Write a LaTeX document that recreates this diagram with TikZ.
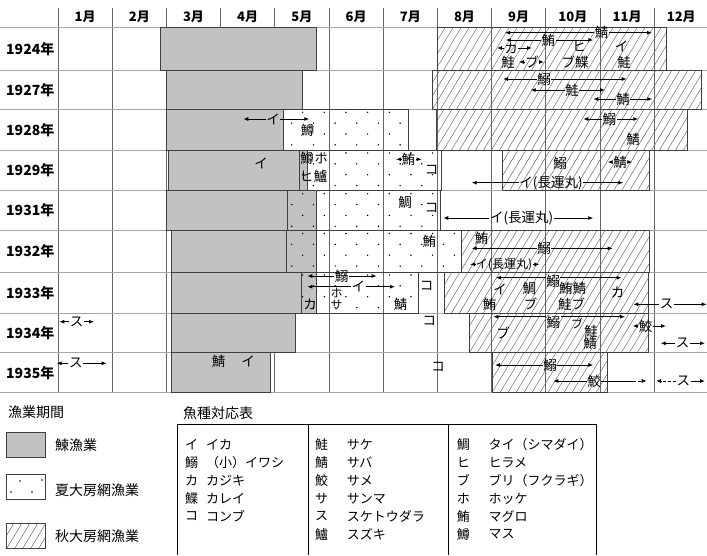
\documentclass[tikz,border=0pt]{standalone}
\usepackage{fontspec}
\setmainfont{Noto Sans CJK JP}
\usetikzlibrary{arrows.meta}
\tikzset{
  vgrid/.style={draw=black!60, line width=0.7pt},
  hgrid/.style={draw=black!35, line width=0.8pt},
  herring/.style={fill=black!24, draw=black!75, line width=0.8pt},
  boxline/.style={draw=black!75, line width=0.8pt},
  hatchline/.style={draw=black!60, line width=0.45pt},
  tabline/.style={draw=black, line width=1pt},
  lab/.style={font=\fontsize{13.5}{13.5}\selectfont, inner sep=0.5pt},
  small/.style={font=\fontsize{12}{12}\selectfont, inner sep=0pt},
  arr/.style={-{Latex[length=5pt,width=4pt]}, line width=0.9pt},
  plain/.style={line width=0.9pt},
  hdr/.style={font=\bfseries\fontsize{14}{14}\selectfont, inner sep=0},
  mhdr/.style={font=\bfseries\fontsize{13}{13}\selectfont, inner sep=0},
  leg/.style={font=\fontsize{14}{14}\selectfont, inner sep=0, anchor=west},
  tab/.style={font=\fontsize{13}{13}\selectfont, inner sep=0, anchor=west},
}
\newcommand\farrow[8][]{% style, name, xl, xr, y, xlab, ylab, text
  \node[lab,#1] (#2) at (#6,#7) {#8};
  \coordinate (#2L) at (#3,#5);
  \coordinate (#2R) at (#4,#5);
  \draw[arr] (#2.west |- #2L) -- (#2L);
  \draw[arr] (#2.east |- #2R) -- (#2R);
}
\newcommand\dotrect[4]{%
  \begin{scope}
    \clip (#1,#2) rectangle (#3,#4);
    \foreach \j in {0,...,3}{
      \foreach \i in {-10,...,10}{
        \fill ({324.3+21.67*\i+10.83*mod(\j,2)},{#2+3+10.85*\j}) circle (0.8pt);
      }
    }
  \end{scope}
  \draw[boxline] (#1,#2) rectangle (#3,#4);
}
\newcommand\hatchrect[4]{%
  \begin{scope}
    \clip (#1,#2) rectangle (#3,#4);
    \pgfmathsetmacro\hH{#4-#2}
    \pgfmathsetmacro\hS{#1-0.6*\hH}
    \pgfmathsetmacro\hN{\hS+8}
    \foreach \c in {\hS,\hN,...,#3}{
      \draw[hatchline] (\c,#4) -- ({\c+0.6*\hH},#2);
    }
  \end{scope}
  \draw[boxline] (#1,#2) rectangle (#3,#4);
}
\begin{document}
\begin{tikzpicture}[x=1pt,y=-1pt]
\useasboundingbox (0,0) rectangle (707,555);
% grid
\foreach \k in {0,...,11} \draw[vgrid] ({58+54.2*\k},8) -- ({58+54.2*\k},392.7);
\foreach \y in {27.7,70,109.3,150,190.7,230.5,272,313.3,352.7,392.7} \draw[hgrid] (0,\y) -- (707,\y);
% headers
\foreach \m [count=\k from 0] in {1,...,12} \node[mhdr] (m\m) at ({85.1+54.2*\k},17) {\m 月};
\foreach \yr/\yc in {1924/48.8,1927/89.7,1928/129.7,1929/170.3,1931/210.6,1932/251.2,1933/292.7,1934/333,1935/372.7}
  \node[hdr,anchor=west] (y\yr) at (6,\yc) {\yr 年};
% herring bars
\foreach \a/\b/\t/\u in {160/316/27.7/70,166/302/70/109.3,166/283/109.3/150,168/307/150/190.7,166/316/190.7/230.5,171/316/230.5/272,171/316/272/313.3,171/295/313.3/352.7,171/270/352.7/392.7}
  \draw[herring] (\a,\t) rectangle (\b,\u);
% summer nets
\dotrect{283}{109.3}{408}{150}
\dotrect{299}{150}{441}{190.7}
\dotrect{287}{190.7}{440}{230.5}
\dotrect{286}{230.5}{461}{272}
\dotrect{301}{272}{418}{313.3}
% autumn nets
\hatchrect{437}{27.7}{666}{70}
\hatchrect{432}{70}{701}{109.3}
\hatchrect{436}{109.3}{687}{150}
\hatchrect{502}{150}{649}{190.7}
\hatchrect{461}{230.5}{649}{272}
\hatchrect{444}{272}{648}{313.3}
\hatchrect{469}{313.3}{648}{352.7}
\hatchrect{492}{352.7}{607}{392.7}
% 1924
\farrow{a1}{505}{652}{32.7}{601.7}{32.7}{鯖}
\farrow{a2}{505.7}{593.3}{40}{548.3}{40}{鮪}
\farrow{a3}{497}{532}{48}{511}{48}{カ}
\node[lab] (t1) at (508,62) {鮭};
\farrow{a4}{519}{544}{62}{532}{62}{ブ}
\node[lab] (t2) at (579,46.7) {ヒ};
\node[lab] (t3) at (575,62) {ブ鰈};
\node[lab] (t5) at (621.5,46) {イ};
\node[lab] (t6) at (624,62) {鮭};
% 1927
\farrow{b1}{503}{626.7}{79}{544}{79}{鰯}
\farrow{b2}{530.7}{605}{90}{572}{90}{鮭}
\farrow{b3}{593.3}{652.3}{99}{623}{99}{鯖}
% 1928
\farrow{c1}{243.3}{309.3}{119}{273}{119}{イ}
\node[lab] (c2) at (307.5,130.7) {鱒};
\farrow{c3}{583.3}{638.3}{119}{609.3}{119}{鰯}
\node[lab] (c4) at (633,139) {鯖};
% 1929
\node[lab] (d1) at (261,163) {イ};
\node[lab] (d2) at (307,158) {鱒};
\node[lab] (d3) at (321,158) {ホ};
\node[lab] (d4) at (306.5,176.7) {ヒ};
\node[lab] (d5) at (320.5,176.7) {鱸};
\farrow{d6}{396}{421.7}{159.3}{408.3}{159.3}{鮪}
\node[lab] (d7) at (431.7,170) {コ};
\node[lab] (d8) at (560,163.3) {鰯};
\farrow{d9}{607.7}{632.3}{162}{620}{162}{鯖}
\farrow{d10}{471.7}{623.3}{182.7}{551}{182.7}{イ(長運丸)}
% 1931
\node[lab] (e1) at (405,202.7) {鯛};
\node[lab] (e2) at (431.7,208.3) {コ};
\farrow{e3}{443.3}{593.3}{218}{521.7}{218}{イ(長運丸)}
% 1932
\node[lab] (f1) at (429.3,241.7) {鮪};
\node[lab] (f2) at (481.7,238.3) {鮪};
\farrow{f3}{471.7}{612.7}{248.3}{544}{248.3}{鰯}
\farrow[font=\fontsize{12}{12}\selectfont]{f4}{470}{539.3}{264.3}{504}{264.3}{イ(長運丸)}
% 1933
\farrow{g1}{307.3}{376.7}{276}{341.7}{276}{鰯}
\farrow{g2}{307.3}{395}{286.7}{358.3}{286.7}{イ}
\node[lab,small] (g3) at (336.7,292.5) {ホ};
\node[lab,small] (g4) at (336.7,305) {サ};
\node[lab] (g5) at (310,304) {カ};
\node[lab] (g6) at (400.5,304) {鯖};
\node[lab] (g7) at (426.7,286) {コ};
\farrow{g8}{496}{621.7}{277.7}{553}{281.7}{鰯}
\node[lab] (g9) at (500,289) {イ};
\node[lab] (g10) at (489.5,304.3) {鮪};
\node[lab] (g11) at (529.3,288.3) {鯛};
\node[lab] (g12) at (530.5,304) {ブ};
\node[lab] (g13) at (572.5,288.3) {鮪鯖};
\node[lab] (g14) at (571.5,304) {鮭ブ};
\node[lab] (g15) at (617.5,292.3) {カ};
\farrow{g16}{633.3}{706.7}{304.3}{666.7}{304.3}{ス}
% 1934
\farrow{h1}{59.3}{94}{321.7}{76.7}{321.7}{ス}
\node[lab] (h2) at (429.3,321) {コ};
\farrow{h3}{493.3}{625}{316.7}{553.3}{322.7}{鰯}
\node[lab] (h4) at (503,333.3) {ブ};
\node[lab,small] (h5) at (577,323.5) {ブ};
\node[lab] (h6) at (591,331) {鮭};
\node[lab] (h7) at (590,343) {鯖};
\farrow{h8}{632.7}{666}{326}{645.5}{326}{鮫}
\farrow{h9}{660.7}{705}{343.3}{682.5}{343.3}{ス}
% 1935
\farrow{i1}{56.7}{106.7}{363.3}{75.8}{363.3}{ス}
\node[lab] (i2) at (218.7,361) {鯖};
\node[lab] (i3) at (248,361) {イ};
\node[lab] (i4) at (438,366.7) {コ};
\farrow{i5}{495}{593.3}{365}{550}{365}{鰯}
\node[lab] (i6) at (594,381) {鮫};
\coordinate (i6L) at (553.3,381);
\coordinate (i6M) at (633,381);
\coordinate (i6R) at (646.7,381);
\draw[arr] (i6.west) -- (i6L);
\draw[plain] (i6.east) -- (i6M);
\draw[arr,dash pattern=on 3pt off 2pt] (i6M) -- (i6R);
\node[lab] (i7) at (683.3,381) {ス};
\coordinate (i7L) at (656,381);
\coordinate (i7R) at (705,381);
\draw[arr,dash pattern=on 3pt off 2pt] (i7.west) -- (i7L);
\draw[arr] (i7.east) -- (i7R);
% legend
\node[leg] (lg0) at (8,411.7) {漁業期間};
\draw[herring] (6,432) rectangle (45,457);
\node[leg] (lg1) at (55,445) {鰊漁業};
\draw[boxline] (6,474) rectangle (45,499);
\foreach \p in {(20,481),(42,480),(11,492),(32,492)} \fill \p circle (0.8pt);
\node[leg] (lg2) at (55,490) {夏大房網漁業};
\hatchrect{6}{523}{45}{548}
\node[leg] (lg3) at (55,536.7) {秋大房網漁業};
\node[leg] (lg4) at (183,413) {魚種対応表};
% species table
\draw[tabline] (177.7,555) -- (177.7,424.3) -- (596.7,424.3) -- (596.7,555);
\draw[tabline] (308.3,424.3) -- (308.3,555);
\draw[tabline] (448.3,424.3) -- (448.3,555);
\foreach \s/\n [count=\i] in {イ/イカ,鰯/（小）イワシ,カ/カジキ,鰈/カレイ,コ/コンブ}{
  \node[tab] (pa\i) at (185,{444.5+18*(\i-1)}) {\s};
  \node[tab] (pb\i) at (206,{444.5+18*(\i-1)}) {\n};
}
\foreach \s/\n [count=\i] in {鮭/サケ,鯖/サバ,鮫/サメ,サ/サンマ,ス/スケトウダラ,鱸/スズキ}{
  \node[tab] (qa\i) at (315,{444.5+18*(\i-1)}) {\s};
  \node[tab] (qb\i) at (346.7,{444.5+18*(\i-1)}) {\n};
}
\foreach \s/\n [count=\i] in {鯛/タイ（シマダイ）,ヒ/ヒラメ,ブ/ブリ（フクラギ）,ホ/ホッケ,鮪/マグロ,鱒/マス}{
  \node[tab] (ra\i) at (456.7,{444.5+18*(\i-1)}) {\s};
  \node[tab] (rb\i) at (488.3,{444.5+18*(\i-1)}) {\n};
}
\end{tikzpicture}
\end{document}
